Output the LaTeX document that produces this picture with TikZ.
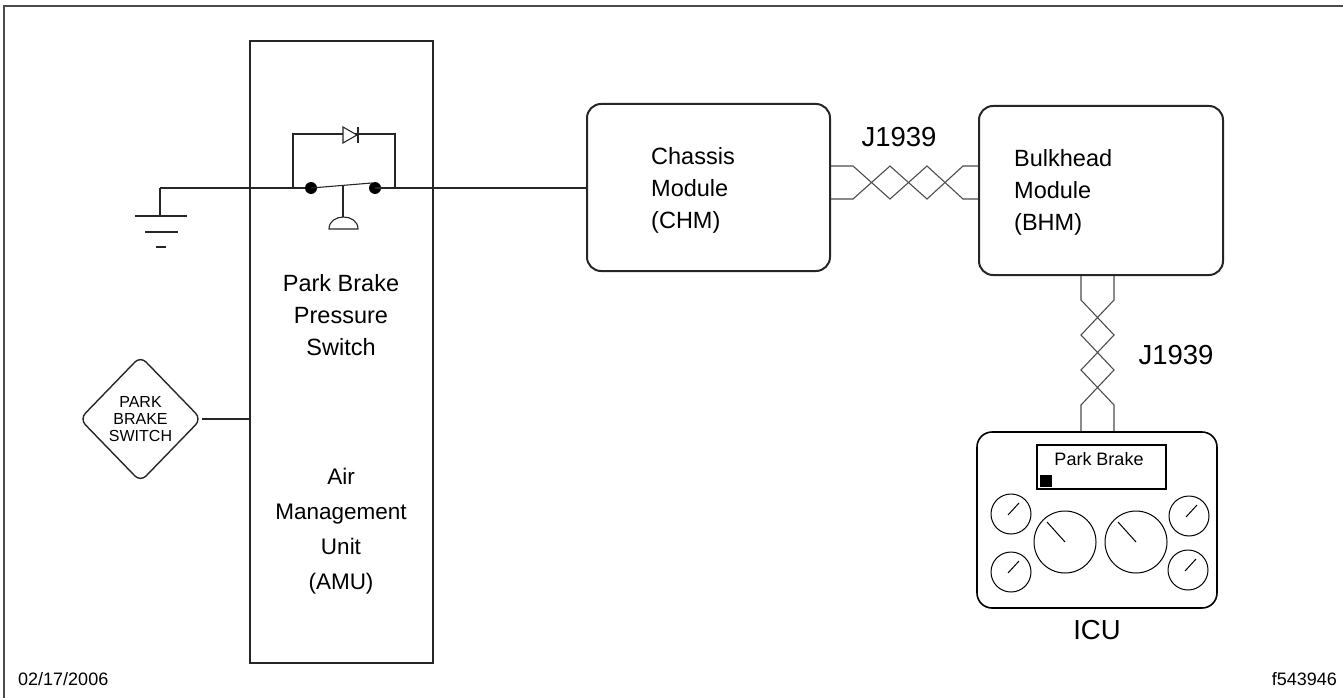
\documentclass[tikz,border=0pt]{standalone}
\usepackage{fontspec}
\setmainfont{Liberation Sans}
\usetikzlibrary{shapes.geometric,calc}
\begin{document}
\begin{tikzpicture}[x=1pt,y=-1pt,
  box/.style={draw=black!85, line width=2pt, rounded corners=14pt, inner sep=0pt},
  wire/.style={line width=1.1pt, draw=black!85},
  pair/.style={line width=1.1pt, draw=black!70},
  lbl/.style={font=\fontsize{23.5}{32}\selectfont, align=left, inner sep=0pt},
  clbl/.style={font=\fontsize{23.5}{32}\selectfont, align=center, inner sep=0pt},
  contact/.style={circle, fill=black, inner sep=0pt, minimum size=12pt},
  gauge/.style={draw=black, line width=1pt, circle, inner sep=0pt},
  needle/.style={line width=1pt, draw=black},
]
\useasboundingbox (0,0) rectangle (1343,698);

% page frame
\draw[line width=2pt, black!70] (4,698) -- (4,6) -- (1343,6);

% Air Management Unit housing
\node[draw=black!85, line width=2.2pt, minimum width=183pt, minimum height=622pt, inner sep=0pt] (amu) at (341.5,352) {};

% pressure switch with bypass diode
\coordinate (gnd) at (160,188);
\node[contact] (lc) at (311,188) {};
\node[contact] (rc) at (375,188) {};
\coordinate (lever) at (372,183);
\draw[wire] (gnd) -- (lc);
\draw[wire] (lc.center) -- (lever);
\draw[wire] (293,188) -- (293,134) -- (395,134) -- (395,189);
\draw[wire, fill=white] (343,127) -- (343,143) -- (357,135) -- cycle;
\draw[wire] (358,127) -- (358,143);
\draw[wire] (343,186) -- (343,217);
\draw[wire] (329,229) .. controls (329,213) and (358,213) .. (358,229) -- cycle;

% ground symbol
\draw[wire] (gnd) -- (160,216);
\draw[wire] (135,216) -- (187,216);
\draw[wire] (145,232) -- (178,232);
\draw[wire] (156,247) -- (166,247);

\node[clbl] (pbps) at (341,315) {Park Brake\\Pressure\\Switch};
\node[clbl, font=\fontsize{22.5}{35}\selectfont] (amutext) at (341,531) {Air\\Management\\Unit\\(AMU)};

% park brake switch input
\node[draw=black!85, diamond, rounded corners=8pt, minimum width=122pt, minimum height=126pt,
      line width=1.4pt, inner sep=0pt, align=center, font=\fontsize{16}{17.3}\selectfont] (pbs) at (140.5,419) {PARK\\BRAKE\\SWITCH};
\draw[wire] (pbs.east) -- (pbs.east -| amu.west);

% modules
\node[box, minimum width=243pt, minimum height=167pt] (chm) at (708.5,187.5) {};
\node[lbl, anchor=west] (chmtext) at (651,190) {Chassis\\Module\\(CHM)};
\node[box, minimum width=244pt, minimum height=169pt] (bhm) at (1101,190.5) {};
\node[lbl, anchor=west] (bhmtext) at (1014,192) {Bulkhead\\Module\\(BHM)};

\draw[wire] (rc.center) -- (rc.center -| chm.west);

% J1939 twisted pair, CHM to BHM
\coordinate (ya) at (0,166);
\coordinate (yb) at (0,199);
\draw[pair] (chm.east |- ya) -- (853,166) -- (890,199) -- (927,166) -- (963,199) -- (bhm.west |- yb);
\draw[pair] (chm.east |- yb) -- (853,199) -- (890,166) -- (927,199) -- (963,166) -- (bhm.west |- ya);
\node[font=\fontsize{27.5}{30}\selectfont, inner sep=0pt] (j1) at (899,137) {J1939};

% instrument cluster
\node[draw=black, line width=1.6pt, rounded corners=15pt, minimum width=240pt, minimum height=176pt, inner sep=0pt] (icu) at (1097,520) {};
\node[font=\fontsize{27.5}{30}\selectfont, inner sep=0pt] (iculbl) at (1097,630) {ICU};

% J1939 twisted pair, BHM to ICU
\coordinate (xa) at (1081,0);
\coordinate (xb) at (1114,0);
\draw[pair] (bhm.south -| xa) -- (1081,300) -- (1114,335) -- (1081,370) -- (1114,405) -- (icu.north -| xb);
\draw[pair] (bhm.south -| xb) -- (1114,300) -- (1081,335) -- (1114,370) -- (1081,405) -- (icu.north -| xa);
\node[font=\fontsize{27.5}{30}\selectfont, inner sep=0pt] (j2) at (1176,355) {J1939};

% message display
\node[draw=black, line width=1.2pt, minimum width=129pt, minimum height=44pt, inner sep=0pt] (disp) at (1101.5,467) {};
\node[font=\fontsize{18}{20}\selectfont, inner sep=0pt] (msg) at (1099,459) {Park Brake};
\fill (1040,475) rectangle (1052,487);

% gauges
\node[gauge, minimum size=40pt] (g1) at (1011,514) {};
\node[gauge, minimum size=40pt] (g2) at (1011,572) {};
\node[gauge, minimum size=40pt] (g3) at (1189,516) {};
\node[gauge, minimum size=40pt] (g4) at (1188,570) {};
\node[gauge, minimum size=62pt] (g5) at (1065,542) {};
\node[gauge, minimum size=62pt] (g6) at (1136,542) {};
\foreach \g in {g1,g2,g3,g4} {
  \draw[needle] ($(\g.center)+(-3,1)$) -- ($(\g.center)+(8,-11)$);
}
\foreach \g in {g5,g6} {
  \draw[needle] (\g.center) -- ($(\g.center)+(-18,-20)$);
}

% drawing date and figure number
\node[font=\fontsize{18}{20}\selectfont, anchor=west, inner sep=0pt] (date) at (18,679) {02/17/2006};
\node[font=\fontsize{18}{20}\selectfont, anchor=east, inner sep=0pt] (fig) at (1337,679) {f543946};
\end{tikzpicture}
\end{document}
